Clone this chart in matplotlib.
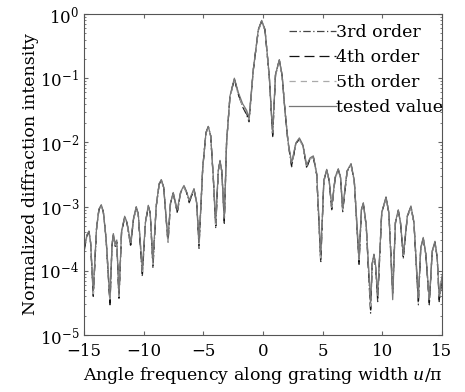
import numpy as np
import matplotlib
matplotlib.use("Agg")
import matplotlib.pyplot as plt

plt.rcParams["font.family"] = "DejaVu Serif"
plt.rcParams["mathtext.fontset"] = "dejavuserif"

# angle frequency u/pi
u = [-15.0, -14.75, -14.58, -14.45, -14.22, -13.95, -13.75, -13.55, -13.38, -13.15,
     -12.82, -12.65, -12.54, -12.38, -12.25, -12.07, -11.85, -11.59, -11.40, -11.09,
     -10.85, -10.62, -10.45, -10.11, -9.85, -9.61, -9.45, -9.22, -8.95, -8.70,
     -8.52, -8.32, -7.96, -7.75, -7.52, -7.18, -6.90, -6.62, -6.40, -6.18,
     -5.78, -5.55, -5.36, -5.05, -4.78, -4.58, -4.38, -4.15, -3.96, -3.75,
     -3.60, -3.45, -3.24, -3.05, -2.77, -2.40, -2.07, -1.70, -1.37, -1.17,
     -0.81, -0.39, -0.11, 0.17, 0.53, 0.81, 1.05, 1.37, 1.60, 1.84,
     2.10, 2.40, 2.75, 3.05, 3.35, 3.66, 3.95, 4.22, 4.50, 4.84,
     5.10, 5.34, 5.55, 5.76, 6.05, 6.31, 6.50, 6.68, 7.05, 7.38,
     7.65, 8.05, 8.25, 8.41, 8.65, 9.02, 9.15, 9.30, 9.45, 9.61,
     9.95, 10.31, 10.55, 10.87, 11.10, 11.34, 11.52, 11.76, 12.10, 12.40,
     12.65, 13.02, 13.22, 13.43, 13.65, 13.94, 14.18, 14.41, 14.60, 14.77,
     15.0]

# log10 of normalized intensity
order3 = [-3.68, -3.45, -3.39, -3.55, -4.40, -3.35, -3.05, -2.975, -3.08, -3.50,
          -4.53, -3.60, -3.44, -3.62, -3.55, -4.45, -3.40, -3.16, -3.25, -3.62,
          -3.20, -3.01, -3.12, -4.09, -3.25, -2.99, -3.10, -3.96, -3.00, -2.65,
          -2.585, -2.70, -3.57, -2.95, -2.79, -3.10, -2.78, -2.68, -2.78, -2.94,
          -2.73, -2.95, -3.65, -2.40, -1.85, -1.755, -1.90, -2.60, -3.34, -2.45,
          -2.29, -2.45, -3.26, -2.00, -1.29, -1.01, -1.24, -1.45, -1.57, -1.68,
          -0.87, -0.25, -0.11, -0.25, -0.98, -1.91, -0.95, -0.72, -0.95, -1.50,
          -2.00, -2.38, -2.02, -1.94, -2.05, -2.40, -2.25, -2.22, -2.50, -3.88,
          -2.60, -2.43, -2.60, -3.05, -2.55, -2.42, -2.55, -3.08, -2.45, -2.34,
          -2.60, -3.90, -3.05, -2.95, -3.30, -4.66, -3.90, -3.75, -3.95, -4.48,
          -3.10, -2.855, -3.10, -4.35, -3.25, -3.06, -3.25, -3.81, -3.15, -3.00,
          -3.25, -4.53, -3.65, -3.49, -3.75, -4.53, -3.70, -3.55, -3.80, -4.48,
          -4.14]
order4 = [-3.70, -3.45, -3.39, -3.56, -4.38, -3.35, -3.05, -2.98, -3.08, -3.50,
          -4.50, -3.60, -3.45, -3.60, -3.56, -4.42, -3.40, -3.17, -3.25, -3.60,
          -3.20, -3.02, -3.12, -4.05, -3.25, -3.00, -3.10, -3.92, -3.00, -2.65,
          -2.59, -2.70, -3.55, -2.95, -2.80, -3.08, -2.78, -2.69, -2.78, -2.92,
          -2.74, -2.95, -3.60, -2.40, -1.85, -1.76, -1.90, -2.60, -3.30, -2.45,
          -2.30, -2.45, -3.22, -2.00, -1.30, -1.01, -1.25, -1.44, -1.55, -1.66,
          -0.87, -0.25, -0.11, -0.25, -0.98, -1.89, -0.95, -0.72, -0.95, -1.50,
          -2.00, -2.36, -2.02, -1.95, -2.05, -2.38, -2.25, -2.23, -2.50, -3.84,
          -2.60, -2.44, -2.60, -3.03, -2.55, -2.43, -2.55, -3.06, -2.45, -2.35,
          -2.60, -3.86, -3.05, -2.96, -3.30, -4.60, -3.90, -3.76, -3.95, -4.44,
          -3.10, -2.86, -3.10, -4.30, -3.25, -3.07, -3.25, -3.78, -3.15, -3.01,
          -3.25, -4.48, -3.65, -3.50, -3.75, -4.50, -3.70, -3.56, -3.80, -4.45,
          -4.12]
order5 = [-3.72, -3.46, -3.41, -3.57, -4.36, -3.36, -3.06, -2.99, -3.09, -3.50,
          -4.48, -3.61, -3.46, -3.60, -3.57, -4.40, -3.41, -3.18, -3.26, -3.58,
          -3.21, -3.03, -3.13, -4.02, -3.26, -3.01, -3.11, -3.90, -3.01, -2.66,
          -2.60, -2.71, -3.53, -2.96, -2.81, -3.06, -2.79, -2.70, -2.79, -2.90,
          -2.75, -2.96, -3.58, -2.41, -1.86, -1.77, -1.91, -2.61, -3.28, -2.46,
          -2.31, -2.46, -3.20, -2.01, -1.31, -1.02, -1.26, -1.43, -1.53, -1.64,
          -0.88, -0.26, -0.12, -0.26, -0.99, -1.87, -0.96, -0.73, -0.96, -1.51,
          -2.01, -2.34, -2.03, -1.96, -2.06, -2.36, -2.26, -2.24, -2.51, -3.80,
          -2.61, -2.45, -2.61, -3.01, -2.56, -2.44, -2.56, -3.04, -2.46, -2.36,
          -2.61, -3.83, -3.06, -2.97, -3.31, -4.56, -3.91, -3.77, -3.96, -4.42,
          -3.11, -2.87, -3.11, -4.25, -3.26, -3.08, -3.26, -3.76, -3.16, -3.02,
          -3.26, -4.45, -3.66, -3.51, -3.76, -4.47, -3.71, -3.57, -3.81, -4.42,
          -4.10]
tested = [-3.65, -3.44, -3.38, -3.55, -4.30, -3.34, -3.04, -2.97, -3.08, -3.48,
          -4.42, -3.58, -3.42, -3.58, -3.52, -4.38, -3.38, -3.15, -3.24, -3.56,
          -3.18, -3.00, -3.11, -3.98, -3.24, -2.98, -3.10, -3.85, -2.99, -2.64,
          -2.58, -2.70, -3.50, -2.94, -2.78, -3.05, -2.77, -2.67, -2.77, -2.90,
          -2.72, -2.94, -3.55, -2.40, -1.85, -1.75, -1.90, -2.58, -3.25, -2.44,
          -2.28, -2.45, -3.18, -2.00, -1.28, -1.00, -1.22, -1.40, -1.50, -1.62,
          -0.86, -0.24, -0.10, -0.24, -0.97, -1.85, -0.94, -0.71, -0.95, -1.49,
          -1.98, -2.32, -2.01, -1.93, -2.04, -2.35, -2.24, -2.21, -2.48, -3.75,
          -2.59, -2.42, -2.59, -3.00, -2.54, -2.41, -2.54, -3.02, -2.44, -2.33,
          -2.59, -3.80, -3.04, -2.94, -3.28, -4.50, -3.88, -3.74, -3.93, -4.38,
          -3.09, -2.85, -3.09, -4.45, -3.24, -3.05, -3.24, -3.74, -3.14, -2.99,
          -3.24, -4.42, -3.64, -3.48, -3.74, -4.45, -3.69, -3.54, -3.78, -4.40,
          -4.08]

fig = plt.figure(figsize=(4.65, 3.92), dpi=100)
ax = fig.add_axes([0.1806, 0.1454, 0.7699, 0.8189])

u = np.array(u)
ax.plot(u, 10 ** np.array(order3), color="#444444", lw=0.9, ls=(0, (6, 2, 1, 2)), label="3rd order")
ax.plot(u, 10 ** np.array(order4), color="#111111", lw=0.9, ls=(0, (8, 4)), label="4th order")
ax.plot(u, 10 ** np.array(order5), color="#aaaaaa", lw=0.9, ls=(0, (5, 4)), label="5th order")
ax.plot(u, 10 ** np.array(tested), color="#777777", lw=0.9, label="tested value")

ax.set_yscale("log")
ax.set_xlim(-15, 15)
ax.set_ylim(1e-5, 1)
ax.set_xticks([-15, -10, -5, 0, 5, 10, 15])
ax.set_xticklabels(["\u221215", "\u221210", "\u22125", "0", "5", "10", "15"])
ax.tick_params(which="both", direction="in", top=True, right=True, labelsize=12, color="#666666")
ax.tick_params(axis="x", pad=6)
ax.tick_params(which="major", length=3)
ax.tick_params(which="minor", length=1.5)
for s in ax.spines.values():
    s.set_color("#555555")
    s.set_linewidth(0.8)

ax.set_xlabel("Angle frequency along grating width $u$/\u03c0", fontsize=12.5, labelpad=3)
ax.set_ylabel("Normalized diffraction intensity", fontsize=12.5, labelpad=0)

ax.legend(loc="upper right", bbox_to_anchor=(1.011, 0.978), frameon=False, fontsize=12.5,
          handlelength=2.7, handletextpad=0.0, labelspacing=0.47, borderaxespad=0.0, borderpad=0.15)

fig.savefig("out.png", dpi=100)
